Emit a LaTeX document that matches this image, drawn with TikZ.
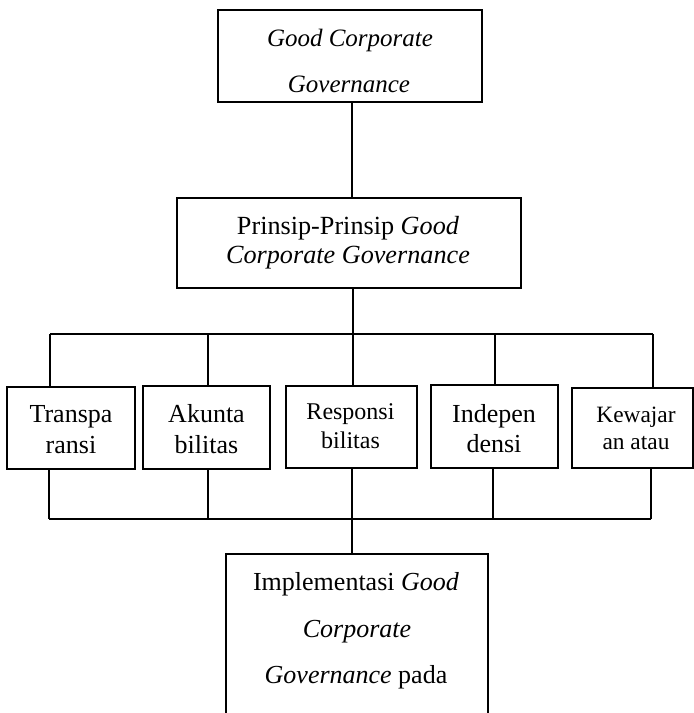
\documentclass[tikz,border=0pt]{standalone}
\usepackage{fontspec}
\setmainfont{Liberation Serif}
\begin{document}
\begin{tikzpicture}[x=1pt,y=-1pt,
  box/.style={draw,line width=1.8pt,inner sep=0pt},
  conn/.style={line width=1.1pt},
  bus/.style={line width=1.7pt},
  txt/.style={inner sep=0pt,anchor=base}]
\useasboundingbox (0,0) rectangle (694,713);
\clip (0,0) rectangle (694,713);

% boxes
\node[box,minimum width=264pt,minimum height=92pt] (gcg) at (350,56) {};
\node[box,minimum width=344pt,minimum height=90pt] (prinsip) at (349,243) {};
\node[box,minimum width=128pt,minimum height=82pt] (b1) at (71,428) {};
\node[box,minimum width=127pt,minimum height=83pt] (b2) at (206.5,427.5) {};
\node[box,minimum width=131pt,minimum height=82pt] (b3) at (351.5,427) {};
\node[box,minimum width=127pt,minimum height=83pt] (b4) at (494.5,426.5) {};
\node[box,minimum width=121pt,minimum height=80pt] (b5) at (632.5,428) {};
\node[box,minimum width=262pt,minimum height=206pt] (impl) at (357,657) {};

% texts
\begin{scope}[font=\fontsize{25}{30}\selectfont]
\node[txt] (gcg1) at (350,46) {\textit{Good Corporate}};
\node[txt] (gcg2) at (349,92) {\textit{Governance}};
\end{scope}
\begin{scope}[font=\fontsize{26.2}{30}\selectfont]
\node[txt] (pr1) at (348,234) {Prinsip-Prinsip \textit{Good}};
\node[txt] (pr2) at (348,263) {\textit{Corporate Governance}};
\end{scope}
\begin{scope}[font=\fontsize{26}{30}\selectfont]
\node[txt] (t1a) at (71,422) {Transpa};
\node[txt] (t1b) at (71,453) {ransi};
\node[txt] (t2a) at (206.5,422) {Akunta};
\node[txt] (t2b) at (206.5,453) {bilitas};
\node[txt] (t4a) at (494,422) {Indepen};
\node[txt] (t4b) at (494,452) {densi};
\node[txt] (im1) at (356,590) {Implementasi \textit{Good}};
\node[txt] (im2) at (357,637) {\textit{Corporate}};
\node[txt] (im3) at (356,683) {\textit{Governance} pada};
\end{scope}
\begin{scope}[font=\fontsize{24}{28}\selectfont]
\node[txt] (t3a) at (350.5,419) {Responsi};
\node[txt] (t3b) at (350.5,448) {bilitas};
\end{scope}
\begin{scope}[font=\fontsize{23.4}{28}\selectfont]
\node[txt] (t5a) at (636,422) {Kewajar};
\node[txt] (t5b) at (636,449) {an atau};
\end{scope}

% connectors
\coordinate (spine) at (352,0);
\coordinate (tA) at (50,334);
\coordinate (tB) at (208,334);
\coordinate (tC) at (353,334);
\coordinate (tD) at (495,334);
\coordinate (tE) at (653,334);
\coordinate (bA) at (49,519);
\coordinate (bB) at (208,519);
\coordinate (bC) at (352,519);
\coordinate (bD) at (493,519);
\coordinate (bE) at (651,519);

\draw[conn] (gcg.south -| spine) -- (prinsip.north -| spine);
\draw[conn] (prinsip.south -| tC) -- (tC);
\draw[bus] (tA) -- (tE);
\draw[conn] (tA) -- (tA |- b1.north);
\draw[conn] (tB) -- (tB |- b2.north);
\draw[conn] (tC) -- (tC |- b3.north);
\draw[conn] (tD) -- (tD |- b4.north);
\draw[conn] (tE) -- (tE |- b5.north);

\draw[bus] (bA) -- (bE);
\draw[conn] (b1.south -| bA) -- (bA);
\draw[conn] (b2.south -| bB) -- (bB);
\draw[conn] (b3.south -| bC) -- (impl.north -| bC);
\draw[conn] (b4.south -| bD) -- (bD);
\draw[conn] (b5.south -| bE) -- (bE);
\end{tikzpicture}
\end{document}
